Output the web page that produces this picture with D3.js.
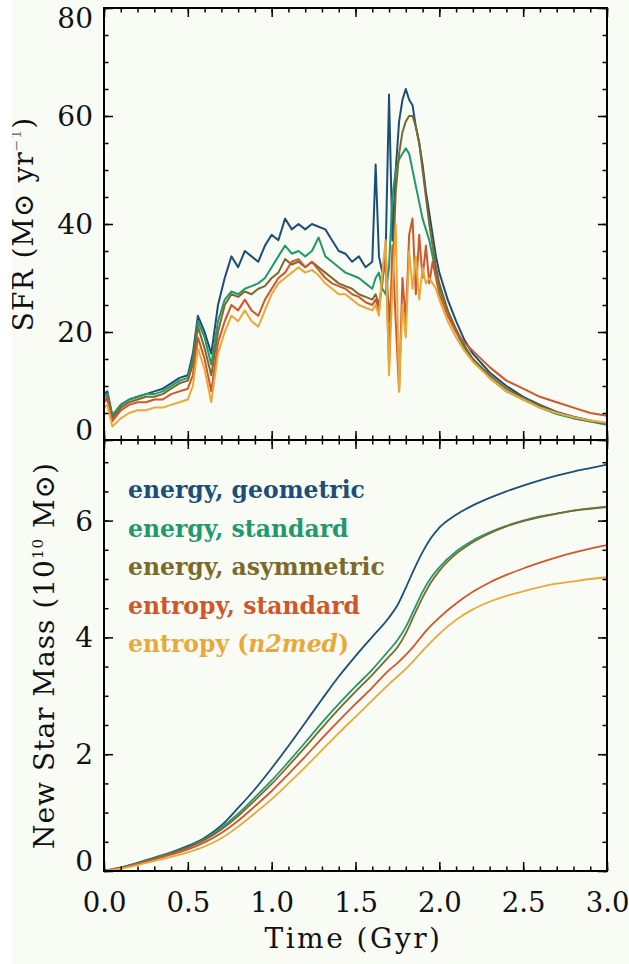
<!DOCTYPE html>
<html>
<head>
<meta charset="utf-8">
<script src="https://cdn.jsdelivr.net/npm/d3@7"></script>
<style>
  html, body { margin: 0; padding: 0; background: #f9fbf5; }
  svg { display: block; }
</style>
</head>
<body>
<svg id="chart" width="629" height="964"></svg>
<script>
// ---- runs ----
const runNames = ["energy, geometric", "energy, standard", "energy, asymmetric", "entropy, standard", "entropy (n2med)"];
const runColors = ["#1d4e78", "#23976e", "#7b6a2a", "#d0562c", "#e9a93a"];

// ---- star formation rate (M_sun / yr) ----
const sfrTime = [0, 0.02, 0.05, 0.1, 0.15, 0.2, 0.25, 0.3, 0.35, 0.4, 0.45, 0.5, 0.53, 0.56,
  0.6, 0.64, 0.68, 0.72, 0.76, 0.8, 0.84, 0.88, 0.92, 0.96, 1.0, 1.04, 1.08, 1.12, 1.16, 1.2,
  1.24, 1.28, 1.32, 1.36, 1.4, 1.44, 1.48, 1.52, 1.56, 1.6,
  1.62, 1.64, 1.66, 1.68, 1.70, 1.72, 1.74, 1.76, 1.78, 1.80, 1.82, 1.84, 1.86, 1.88, 1.90,
  1.92, 1.94, 1.96, 1.98, 2.0, 2.05, 2.1, 2.15, 2.2, 2.3, 2.4, 2.5, 2.6, 2.7, 2.8, 2.9, 3.0];

const sfrEnergyGeometric = [8.5, 9, 4.5, 6.5, 7.5, 8, 8.5, 9, 9.5, 10.5, 11.5, 12, 16, 23,
  20, 16, 25, 30, 34, 32, 35, 34, 33, 36, 38, 37, 41, 39, 40, 39,
  40, 39.5, 39, 37, 35, 34.5, 33, 34, 32, 33,
  51, 34, 31, 35, 64, 37, 50, 59, 63, 65, 63, 62, 58, 55, 51,
  46, 42, 38, 34, 31, 26, 22, 18.5, 16, 12.5, 10, 8, 6.5, 5.2, 4.3, 3.6, 3.0];

const sfrEnergyStandard = [8, 8.5, 4.5, 6.5, 7.5, 8, 8.5, 8.5, 9, 10, 11, 11.5, 15, 22,
  19, 14, 22, 26, 27.5, 27, 28, 28.5, 29, 30, 32, 34, 36, 34.5, 35, 34,
  35, 37.5, 34, 33, 32, 31, 30.5, 30, 29, 28,
  30, 31, 28, 27, 32, 45, 50, 52, 53, 54, 53, 50, 47, 44, 41,
  39, 37, 34, 31, 28, 24, 20, 17, 15, 11.5, 9, 7.5, 6, 4.8, 4, 3.4, 2.8];

const sfrEnergyAsymmetric = [7, 8, 4, 6, 7, 7.5, 8, 8, 8.5, 9.5, 10.5, 11, 14, 21,
  17, 12, 20, 25, 27, 26.5, 27.5, 27, 28, 28.5, 30, 31, 33.5, 32.5, 33, 32,
  33, 32, 31, 30, 29, 28.5, 28, 27, 26.5, 26,
  27, 25, 29, 35, 22, 30, 46, 53, 57, 59, 60, 60, 58, 55, 50,
  45, 40, 36, 32, 29, 24, 20.5, 17.5, 15, 12, 9.5, 7.8, 6.3, 5.1, 4.2, 3.5, 3.0];

const sfrEntropyStandard = [7, 7.5, 3.5, 5.5, 6.5, 7, 7, 7.5, 7.5, 8.5, 9, 9.5, 12, 19,
  15, 9, 18, 22, 25, 24, 26, 24, 23, 26, 28, 30, 31, 33, 33.5, 32,
  33, 31.5, 30, 29, 28.5, 28, 27, 26.5, 25.5, 25,
  26, 24, 30, 33, 14, 36, 22, 9, 30, 22, 38, 41, 27, 38, 30,
  36, 29, 33, 30, 27, 23, 20, 18, 16.5, 13.5, 11, 9.5, 8, 7, 6, 5, 4.5];

const sfrEntropyN2med = [6, 6.5, 2.5, 4, 5, 5.5, 5.5, 6, 6, 6.5, 7, 7.5, 10, 17,
  13, 7, 16, 20, 23, 22, 24, 22, 21, 24, 27, 29, 30, 31, 32, 31,
  31.5, 30.5, 29, 28, 27, 27, 26, 25, 24.5, 24,
  25, 23, 31, 37, 12, 28, 40, 9, 25, 19, 35, 28, 34, 26, 32,
  29, 30, 29, 28, 26, 22, 19, 16.5, 14.5, 11.5, 9, 7.5, 6, 5, 4.2, 3.6, 3.2];

// ---- cumulative new stellar mass (1e10 M_sun) ----
const massTime = [0, 0.1, 0.2, 0.3, 0.4, 0.5, 0.6, 0.7, 0.8, 0.9, 1.0, 1.1, 1.2, 1.3, 1.4, 1.5,
  1.6, 1.7, 1.75, 1.8, 1.85, 1.9, 1.95, 2.0, 2.1, 2.2, 2.3, 2.4, 2.5, 2.6, 2.7, 2.8, 2.9, 3.0];

const massEnergyGeometric = [0, 0.06, 0.14, 0.23, 0.32, 0.43, 0.57, 0.78, 1.08, 1.40, 1.76, 2.14,
  2.54, 2.94, 3.33, 3.68, 4.01, 4.34, 4.55, 4.85, 5.17, 5.46, 5.70, 5.88, 6.10, 6.26, 6.39, 6.50,
  6.60, 6.69, 6.77, 6.84, 6.90, 6.96];
const massEnergyStandard = [0, 0.06, 0.13, 0.22, 0.31, 0.41, 0.55, 0.74, 0.98, 1.26, 1.55, 1.87,
  2.20, 2.54, 2.86, 3.16, 3.45, 3.78, 3.95, 4.18, 4.48, 4.78, 5.02, 5.20, 5.47, 5.66, 5.80, 5.91,
  6.00, 6.07, 6.12, 6.17, 6.20, 6.23];
const massEnergyAsymmetric = [0, 0.05, 0.12, 0.21, 0.30, 0.40, 0.53, 0.71, 0.94, 1.21, 1.49, 1.80,
  2.12, 2.45, 2.77, 3.07, 3.36, 3.67, 3.83, 4.07, 4.38, 4.68, 4.94, 5.14, 5.43, 5.63, 5.78, 5.90,
  5.99, 6.06, 6.12, 6.17, 6.21, 6.24];
const massEntropyStandard = [0, 0.05, 0.12, 0.20, 0.28, 0.37, 0.49, 0.65, 0.86, 1.11, 1.37, 1.66,
  1.96, 2.27, 2.57, 2.86, 3.14, 3.44, 3.56, 3.70, 3.86, 4.04, 4.20, 4.34, 4.58, 4.78, 4.94, 5.07,
  5.18, 5.28, 5.37, 5.45, 5.52, 5.58];
const massEntropyN2med = [0, 0.04, 0.10, 0.17, 0.24, 0.32, 0.42, 0.56, 0.76, 0.99, 1.23, 1.50,
  1.78, 2.07, 2.36, 2.64, 2.92, 3.20, 3.33, 3.46, 3.61, 3.77, 3.92, 4.06, 4.30, 4.48, 4.61, 4.71,
  4.79, 4.86, 4.92, 4.96, 5.00, 5.03];

// ---- axis ticks ----
const timeTicks = [0, 0.5, 1.0, 1.5, 2.0, 2.5, 3.0];
const timeMinorTicks = d3.range(0, 3.001, 0.1);
const sfrTicks = [0, 20, 40, 60, 80];
const sfrMinorTicks = d3.range(0, 80.1, 5);
const massTicks = [0, 2, 4, 6];
const massMinorTicks = d3.range(0, 7.31, 0.5);

const sfrSeries = [sfrEnergyGeometric, sfrEnergyStandard, sfrEnergyAsymmetric, sfrEntropyStandard, sfrEntropyN2med];
const massSeries = [massEnergyGeometric, massEnergyStandard, massEnergyAsymmetric, massEntropyStandard, massEntropyN2med];

// ---- layout ----
const left = 104, right = 607;
const topY = 8, midY = 440, botY = 871;
const FONT = "DejaVu Serif";

const svg = d3.select("#chart");

const x = d3.scaleLinear().domain([0, 3]).range([left, right]);
const ySfr = d3.scaleLinear().domain([0, 80]).range([midY, topY]);
const yMass = d3.scaleLinear().domain([0, 7.38]).range([botY, midY]);

// clip regions for each panel
const defs = svg.append("defs");
defs.append("clipPath").attr("id", "clipTop")
  .append("rect").attr("x", left).attr("y", topY).attr("width", right - left).attr("height", midY - topY);
defs.append("clipPath").attr("id", "clipBot")
  .append("rect").attr("x", left).attr("y", midY).attr("width", right - left).attr("height", botY - midY);

// ---- SFR curves ----
const sfrLine = d3.line().x((d, i) => x(sfrTime[i])).y(d => ySfr(d)).curve(d3.curveLinear);
const gTop = svg.append("g").attr("clip-path", "url(#clipTop)");
sfrSeries.forEach((s, k) => {
  gTop.append("path").datum(s)
    .attr("d", sfrLine)
    .attr("fill", "none")
    .attr("stroke", runColors[k])
    .attr("stroke-width", 2)
    .attr("stroke-linejoin", "round");
});

// ---- mass curves ----
const massLine = d3.line().x((d, i) => x(massTime[i])).y(d => yMass(d)).curve(d3.curveMonotoneX);
const gBot = svg.append("g").attr("clip-path", "url(#clipBot)");
massSeries.forEach((s, k) => {
  gBot.append("path").datum(s)
    .attr("d", massLine)
    .attr("fill", "none")
    .attr("stroke", runColors[k])
    .attr("stroke-width", 1.8);
});

// ---- frames and inward ticks ----
function styleTicks(g) {
  g.selectAll(".domain").remove();
  g.selectAll("line").attr("stroke", "#000").attr("stroke-width", 1.5);
}

function panelTicks(yScale, yMajor, yMinor, y0, y1) {
  const sets = [[timeMinorTicks, 4.5], [timeTicks, 9]];
  sets.forEach(([vals, len]) => {
    svg.append("g").attr("transform", `translate(0,${y0})`)
      .call(d3.axisBottom(x).tickValues(vals).tickSize(len).tickFormat("")).call(styleTicks);
    svg.append("g").attr("transform", `translate(0,${y1})`)
      .call(d3.axisTop(x).tickValues(vals).tickSize(len).tickFormat("")).call(styleTicks);
  });
  [[yMinor, 4.5], [yMajor, 9]].forEach(([vals, len]) => {
    svg.append("g").attr("transform", `translate(${left},0)`)
      .call(d3.axisRight(yScale).tickValues(vals).tickSize(len).tickFormat("")).call(styleTicks);
    svg.append("g").attr("transform", `translate(${right},0)`)
      .call(d3.axisLeft(yScale).tickValues(vals).tickSize(len).tickFormat("")).call(styleTicks);
  });
  svg.append("rect")
    .attr("x", left).attr("y", y0).attr("width", right - left).attr("height", y1 - y0)
    .attr("fill", "none").attr("stroke", "#000").attr("stroke-width", 2);
}
panelTicks(ySfr, sfrTicks, sfrMinorTicks, topY, midY);
panelTicks(yMass, massTicks, massMinorTicks, midY, botY);

// ---- tick labels ----
function yLabels(yScale, vals, lo, hi) {
  const g = svg.append("g").attr("transform", `translate(${left},0)`)
    .call(d3.axisLeft(yScale).tickValues(vals).tickSize(0).tickPadding(11).tickFormat(d3.format("d")));
  g.selectAll(".domain").remove();
  g.attr("font-family", FONT).attr("font-size", 28);
  g.selectAll("text").attr("fill", "#111")
    .attr("dy", d => d === lo ? "-0.02em" : d === hi ? "0.68em" : "0.34em");
}
yLabels(ySfr, sfrTicks, 0, 80);
yLabels(yMass, massTicks, 0, null);

const gx = svg.append("g").attr("transform", `translate(0,${botY})`)
  .call(d3.axisBottom(x).tickValues(timeTicks).tickSize(0).tickPadding(21).tickFormat(d3.format(".1f")));
gx.selectAll(".domain").remove();
gx.attr("font-family", FONT).attr("font-size", 27.5);
gx.selectAll("text").attr("fill", "#111");

// ---- axis titles ----
svg.append("text")
  .attr("x", (left + right) / 2 - 2).attr("y", 948)
  .attr("text-anchor", "middle")
  .attr("font-family", FONT).attr("font-size", 28).attr("letter-spacing", 2.5)
  .attr("fill", "#111")
  .text("Time (Gyr)");

const tMass = svg.append("text")
  .attr("transform", `translate(54,${(midY + botY) / 2}) rotate(-90)`)
  .attr("text-anchor", "middle")
  .attr("font-family", FONT).attr("font-size", 28).attr("letter-spacing", 1)
  .attr("fill", "#111");
tMass.append("tspan").text("New Star Mass (10");
tMass.append("tspan").attr("font-size", 15).attr("dy", -11).text("10");
tMass.append("tspan").attr("dy", 11).text(" M\u2299)");

const tSfr = svg.append("text")
  .attr("transform", `translate(33,${(topY + midY) / 2}) rotate(-90)`)
  .attr("text-anchor", "middle")
  .attr("font-family", FONT).attr("font-size", 28).attr("letter-spacing", 1)
  .attr("fill", "#111");
tSfr.append("tspan").text("SFR (M\u2299 yr");
tSfr.append("tspan").attr("font-size", 14).attr("dy", -12).attr("fill", "#777").text("\u22121");
tSfr.append("tspan").attr("dy", 12).text(")");

// white margin strip along the left edge
svg.append("rect").attr("x", 0).attr("y", 0).attr("width", 12).attr("height", 964).attr("fill", "#ffffff");

// ---- legend ----
const legend = svg.append("g").attr("font-family", FONT).attr("font-size", 23.5).attr("font-weight", "bold");
runNames.forEach((name, k) => {
  const t = legend.append("text")
    .attr("x", 128).attr("y", 498 + k * 38.5)
    .attr("fill", runColors[k]);
  const m = name.match(/^(.*\()(.*)(\))$/);
  if (m) {
    t.append("tspan").text(m[1]);
    t.append("tspan").attr("font-style", "italic").text(m[2]);
    t.append("tspan").text(m[3]);
  } else {
    t.text(name);
  }
});
</script>
</body>
</html>
